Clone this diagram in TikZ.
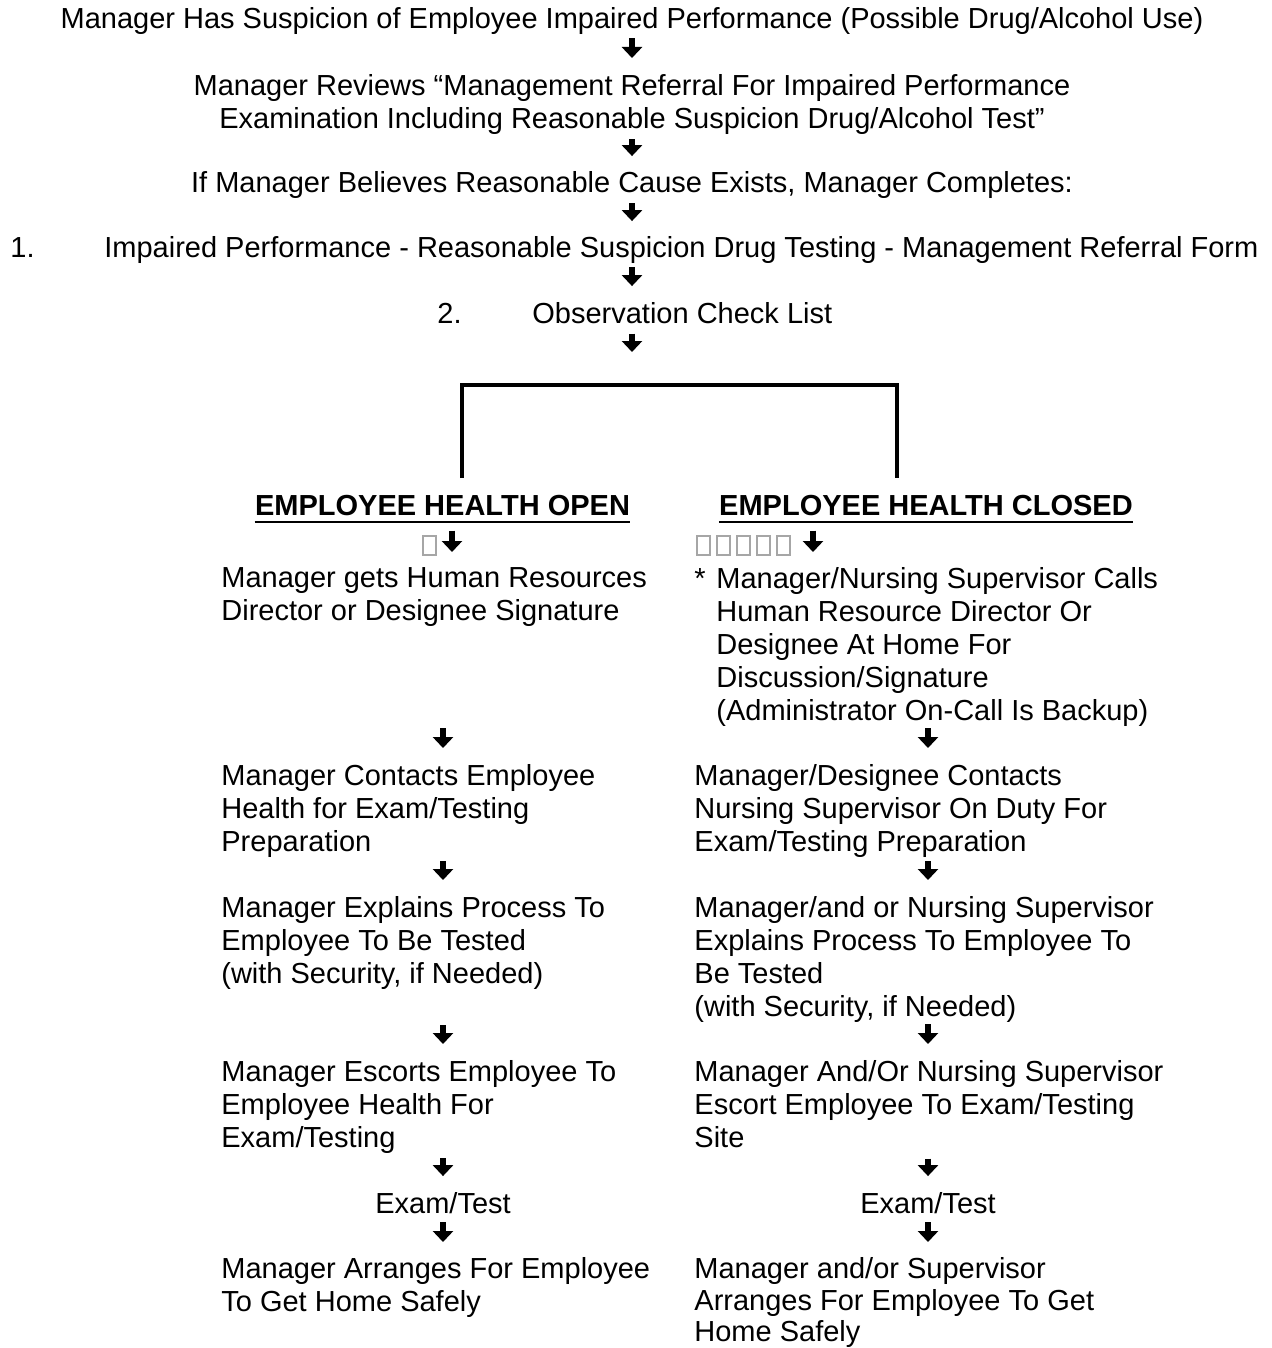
\documentclass[tikz,border=0pt]{standalone}
\usepackage{fontspec}
\setmainfont{Liberation Sans}
\usetikzlibrary{arrows.meta}

\begin{document}
\begin{tikzpicture}[x=0.5pt, y=-0.5pt,
      txt/.style={inner sep=0pt, font=\fontsize{14.5}{16.5}\selectfont},
      col/.style={txt, anchor=north west, align=left},
      head/.style={inner sep=0pt, anchor=base,
        font=\fontsize{14.5}{16.5}\selectfont\bfseries},
      darr/.style={line width=2.8pt, -{Triangle[width=10pt,length=5.5pt]}},
      gap/.style 2 args={shorten <=#1, shorten >=#2},
      uline/.style={line width=1.2pt},
      brk/.style={line width=2pt},
      tofu/.style={draw=gray!70, line width=0.6pt}]
    \useasboundingbox (0,0) rectangle (1272,1348);
    \coordinate (colM) at (632,0);
    \coordinate (colL) at (443,0);
    \coordinate (colR) at (928,0);
    \coordinate (tipL) at (452,0);
    \coordinate (tipR) at (813,0);

    % top chain
    \node[txt, anchor=base] (t1) at (632,29)
      {Manager Has Suspicion of Employee Impaired Performance (Possible Drug/Alcohol Use)};
    \node[txt, anchor=north, align=center] (t2) at (632,74.5)
      {Manager Reviews “Management Referral For Impaired Performance\\
       Examination Including Reasonable Suspicion Drug/Alcohol Test”};
    \node[txt, anchor=base] (t3) at (632,193)
      {If Manager Believes Reasonable Cause Exists, Manager Completes:};
    \node[txt, anchor=base west] (n1) at (10,257) {1.};
    \node[txt, anchor=base west] (t4) at (104,257)
      {Impaired Performance - Reasonable Suspicion Drug Testing - Management Referral Form};
    \node[txt, anchor=base west] (n2) at (437,323) {2.};
    \node[txt, anchor=base west] (t5) at (532,323) {Observation Check List};
    \coordinate (fork) at (632,385);
    \coordinate (brL) at (462,478);
    \coordinate (brR) at (897,478);

    \draw[darr, gap={1.5pt}{8.25pt}] (t1.south -| colM) -- (t2.north -| colM);
    \draw[darr, gap={2pt}{7.75pt}] (t2.south -| colM) -- (t3.north -| colM);
    \draw[darr, gap={2pt}{7.25pt}] (t3.south -| colM) -- (t4.north -| colM);
    \draw[darr, gap={2pt}{7.75pt}] (t4.south -| colM) -- (t5.north -| colM);
    \draw[darr, gap={5pt}{16.5pt}] (t5.south -| colM) -- (fork);
    \draw[brk] (brL) |- (fork) -| (brR);

    % the two branches
    \node[head] (hopen) at (442.5,515) {EMPLOYEE HEALTH OPEN};
    \node[head] (hclosed) at (926,515) {EMPLOYEE HEALTH CLOSED};
    \draw[uline] ([yshift=-3.5pt]hopen.base west) -- ([yshift=-3.5pt]hopen.base east);
    \draw[uline] ([yshift=-3.5pt]hclosed.base west) -- ([yshift=-3.5pt]hclosed.base east);
    \draw[tofu] (423,536) rectangle ++(13,19);
    \foreach \i in {0,...,4}
      \draw[tofu] (697+20*\i,536) rectangle ++(13,19);

    \node[col] (lo1) at (221,567.5)
      {Manager gets Human Resources\\Director or Designee Signature};
    \node[col] (lo2) at (221,764.5)
      {Manager Contacts Employee\\Health for Exam/Testing\\Preparation};
    \node[col] (lo3) at (221,896.5)
      {Manager Explains Process To\\Employee To Be Tested\\(with Security, if Needed)};
    \node[col] (lo4) at (221,1060.5)
      {Manager Escorts Employee To\\Employee Health For\\Exam/Testing};
    \node[txt, anchor=base] (lexam) at (443,1213) {Exam/Test};
    \node[col] (lo5) at (221,1257.5)
      {Manager Arranges For Employee\\To Get Home Safely};

    \node[col] (ro1) at (694,567.5)
      {\makebox[11pt][l]{*}Manager/Nursing Supervisor Calls\\
       \hspace*{11pt}Human Resource Director Or\\
       \hspace*{11pt}Designee At Home For\\
       \hspace*{11pt}Discussion/Signature\\
       \hspace*{11pt}(Administrator On-Call Is Backup)};
    \node[col] (ro2) at (694,764.5)
      {Manager/Designee Contacts\\Nursing Supervisor On Duty For\\Exam/Testing Preparation};
    \node[col] (ro3) at (694,896.5)
      {Manager/and or Nursing Supervisor\\Explains Process To Employee To\\Be Tested\\(with Security, if Needed)};
    \node[col] (ro4) at (694,1060.5)
      {Manager And/Or Nursing Supervisor\\Escort Employee To Exam/Testing\\Site};
    \node[txt, anchor=base] (rexam) at (928,1213) {Exam/Test};
    \node[col, font=\fontsize{14.5}{15.75}\selectfont] (ro5) at (694,1257.5)
      {Manager and/or Supervisor\\Arranges For Employee To Get\\Home Safely};

    \draw[darr, gap={7.5pt}{7.75pt}] (hopen.south -| tipL) -- (lo1.north -| tipL);
    \draw[darr, gap={50.5pt}{8.25pt}] (lo1.south -| colL) -- (lo2.north -| colL);
    \draw[darr, gap={1.5pt}{8.25pt}] (lo2.south -| colL) -- (lo3.north -| colL);
    \draw[darr, gap={17.5pt}{8.25pt}] (lo3.south -| colL) -- (lo4.north -| colL);
    \draw[darr, gap={2pt}{7.75pt}] (lo4.south -| colL) -- (lexam);
    \draw[darr, gap={4.25pt}{7.75pt}] (lexam) -- (lo5.north -| colL);
    \draw[darr, gap={7.5pt}{7.75pt}] (hclosed.south -| tipR) -- (ro1.north -| tipR);
    \draw[darr, gap={0.5pt}{8.25pt}] (ro1.south -| colR) -- (ro2.north -| colR);
    \draw[darr, gap={1.5pt}{8.25pt}] (ro2.south -| colR) -- (ro3.north -| colR);
    \draw[darr, gap={0.5pt}{8.25pt}] (ro3.south -| colR) -- (ro4.north -| colR);
    \draw[darr, gap={5pt}{7.75pt}] (ro4.south -| colR) -- (rexam);
    \draw[darr, gap={4.25pt}{7.75pt}] (rexam) -- (ro5.north -| colR);
  \end{tikzpicture}
\end{document}
